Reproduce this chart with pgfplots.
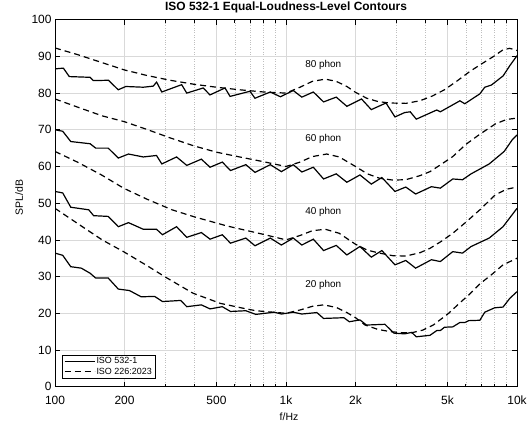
\documentclass[border=0pt]{standalone}
\usepackage{fontspec}
\setmainfont{Liberation Sans}
\usepackage{pgfplots}
\pgfplotsset{compat=1.18}

\begin{document}
\begin{tikzpicture}
\begin{axis}[
    name=ax,
    xmode=log,
    width=462bp, height=367bp, scale only axis,
    xmin=100, xmax=10000, ymin=0, ymax=100,
    xtick={100,200,500,1000,2000,5000,10000},
    xticklabels={100,200,500,1k,2k,5k,10k},
    minor xtick={300,400,600,700,800,900,3000,4000,6000,7000,8000,9000},
    ytick={0,10,...,100},
    grid=both,
    major grid style={black!15, line width=0.6bp},
    minor grid style={black!25, dotted, line width=0.5bp},
    tick align=inside,
    major tick length=5bp, minor tick length=3bp,
    axis line style={line width=0.8bp},
    tick style={black, line width=0.6bp},
    ticklabel style={font=\fontsize{12}{14}\selectfont},
    xticklabel style={yshift=-5.5bp},
    /pgf/number format/assume math mode=true,
    xlabel={f/Hz}, ylabel={SPL/dB},
    label style={font=\fontsize{10.5}{12}\selectfont},
    xlabel style={at={(axis description cs:0.5065,-0.0817)}, anchor=center},
    ylabel style={at={(axis description cs:-0.0779,0.515)}, anchor=center},
    title={ISO 532-1 Equal-Loudness-Level Contours},
    title style={font=\bfseries\fontsize{12}{14}\selectfont, at={(axis description cs:0.5,1)}, anchor=base, yshift=3.4bp},
    legend cell align=left,
    legend image code/.code={\draw[#1] (0bp,0bp) -- (30bp,0bp);},
    legend style={
        at={(0.0145,0.0229)}, anchor=south west,
        draw=black, line width=0.6bp, fill=white,
        font=\fontsize{9}{10}\selectfont,
        inner xsep=2bp, inner ysep=1bp,
        nodes={inner sep=1.3bp},
    },
    every axis plot/.append style={black, line width=1.2bp},
]

% ISO 532-1 contours (solid), ISO 226:2023 contours (dashed)
\addplot[solid] coordinates {
(100,86.6) (108.7,86.8) (115.3,84.5) (141.7,84.3) (146.5,83.4) (170.4,83.5) (187.8,80.9) (202.5,81.8) (241.1,81.6) (266.2,81.9) (275.3,83.0) (289.9,80.3) (353.5,82.3) (371.8,80.0) (438.3,81.4) (468.6,79.5) (544.4,81.4) (572.6,79.1) (698.4,80.5) (733.8,78.6) (855.2,80.3) (946,79.0) (1075,80.7) (1171,78.9) (1313,80.3) (1454,77.6) (1650,78.9) (1834,76.4) (2122,78.4) (2340,75.5) (2710,77.3) (2963,73.5) (3263,74.7) (3450,74.9) (3664,72.9) (4495,75.4) (4656,74.9) (5660,77.9) (5942,77.1) (6906,79.8) (7251,81.6) (7753,82.2) (8710,84.7) (9314,87.5) (10000,90.2)
};
\addlegendentry{ISO 532-1}
\addplot[dash pattern=on 6bp off 4bp] coordinates {
(100,92.3) (125,90.5) (160,88.3) (200,86.3) (250,84.8) (315,83.5) (400,82.4) (500,81.6) (630,80.9) (800,80.3) (1000,80.0) (1150,81.6) (1300,83.2) (1480,83.8) (1650,83.2) (1834,81.8) (2000,80.2) (2236,78.6) (2500,77.7) (2810,77.3) (3300,77.2) (3795,77.9) (4300,79.2) (4851,80.9) (5500,83.3) (6250,85.9) (7000,87.9) (7923,90.0) (8700,91.8) (9300,92.2) (10000,91.6)
};
\addlegendentry{ISO 226:2023}

\addplot[solid] coordinates {
(100,70.0) (108,69.6) (117,66.8) (142,66.2) (150,65.0) (170,65.0) (188,62.3) (208,63.4) (241,62.6) (275,63.0) (290,60.7) (336,62.6) (372,60.3) (430,62.0) (469,59.8) (530,61.2) (575,58.9) (670,60.5) (734,58.4) (855,60.5) (955,58.6) (1075,60.5) (1171,58.5) (1313,59.8) (1454,56.6) (1650,58.0) (1834,55.7) (2090,57.7) (2340,55.2) (2600,57.0) (2963,53.2) (3300,54.4) (3640,52.5) (4260,54.5) (4656,54.1) (5270,56.6) (5810,56.4) (6330,58.0) (7580,60.7) (8800,64.1) (9540,67.3) (10000,68.6)
};
\addplot[dash pattern=on 6bp off 4bp] coordinates {
(100,78.4) (125,76.2) (160,73.8) (200,72.2) (250,70.1) (315,67.8) (400,65.6) (500,63.9) (630,62.6) (800,61.3) (1000,60.0) (1150,61.2) (1300,62.7) (1500,63.4) (1700,62.6) (2000,60.0) (2250,58.0) (2540,56.8) (2900,56.3) (3300,56.4) (3800,57.5) (4200,58.6) (4700,60.6) (5270,62.7) (6000,66.0) (6906,68.8) (8060,71.6) (9000,72.8) (10000,73.2)
};

\addplot[solid] coordinates {
(100,53.2) (108,52.8) (117,48.9) (140,48.2) (147,46.6) (170,46.4) (188,43.6) (208,44.7) (241,42.9) (275,42.9) (292,41.4) (336,43.6) (372,40.7) (430,42.0) (469,40.2) (530,41.4) (575,39.1) (670,40.5) (734,38.4) (855,40.5) (955,38.6) (1075,40.5) (1171,38.6) (1313,40.2) (1454,37.1) (1650,38.5) (1834,35.9) (2090,38.2) (2340,35.3) (2600,37.1) (2963,33.2) (3300,34.4) (3640,32.3) (4260,34.6) (4656,34.1) (5270,36.8) (5810,36.4) (6330,38.2) (7580,40.5) (8700,43.6) (10000,48.6)
};
\addplot[dash pattern=on 6bp off 4bp] coordinates {
(100,64.1) (125,61.2) (160,57.6) (198,54.1) (250,51.1) (321,48.2) (400,46.3) (555,43.8) (630,43.0) (800,41.5) (1000,40.0) (1150,41.2) (1300,42.5) (1480,42.9) (1700,41.8) (2000,38.8) (2250,37.2) (2540,36.4) (2900,35.7) (3300,35.6) (3800,36.5) (4200,37.7) (4700,39.6) (5270,41.8) (6000,44.8) (6906,48.2) (8060,52.3) (9000,53.8) (10000,54.4)
};

\addplot[solid] coordinates {
(100,36.4) (108,35.8) (117,32.7) (130,32.3) (142,30.9) (150,29.6) (170,29.6) (188,26.6) (210,26.2) (236,24.5) (270,24.6) (292,23.2) (350,23.5) (372,21.8) (430,22.3) (469,21.2) (530,21.8) (575,20.5) (670,20.7) (740,19.7) (890,20.3) (955,19.8) (1075,20.3) (1171,19.8) (1360,20.2) (1454,18.6) (1780,18.8) (1880,17.7) (2090,18.2) (2230,16.8) (2680,17.0) (2930,14.6) (3263,14.4) (3500,14.8) (3664,13.6) (4200,14.0) (4495,15.3) (4656,15.3) (4850,16.2) (5270,16.3) (5660,17.5) (5950,17.5) (6180,18.0) (6906,18.1) (7250,20.3) (8000,21.5) (8700,21.7) (9314,24.1) (10000,25.9)
};
\addplot[dash pattern=on 6bp off 4bp] coordinates {
(100,48.6) (125,44.5) (160,40.0) (198,36.8) (250,33.0) (300,29.9) (395,25.5) (520,22.7) (650,21.4) (740,20.7) (1000,20.0) (1150,20.9) (1300,21.9) (1454,22.3) (1650,21.6) (1834,20.2) (2000,18.8) (2200,16.8) (2500,15.6) (2830,15.0) (3200,14.7) (3500,14.7) (3900,15.4) (4340,16.8) (5060,20.0) (5600,22.6) (6180,25.0) (6900,28.0) (7750,30.5) (8700,33.2) (10000,35.0)
};

\node[font=\fontsize{10}{11}\selectfont] at (axis cs:1450,87.6) {80 phon};
\node[font=\fontsize{10}{11}\selectfont] at (axis cs:1450,67.6) {60 phon};
\node[font=\fontsize{10}{11}\selectfont] at (axis cs:1450,47.6) {40 phon};
\node[font=\fontsize{10}{11}\selectfont] at (axis cs:1450,27.6) {20 phon};
\end{axis}
\pgfresetboundingbox
\path ([shift={(-55bp,-37.3bp)}]ax.south west) rectangle ([shift={(15bp,19.7bp)}]ax.north east);
\end{tikzpicture}
\end{document}
